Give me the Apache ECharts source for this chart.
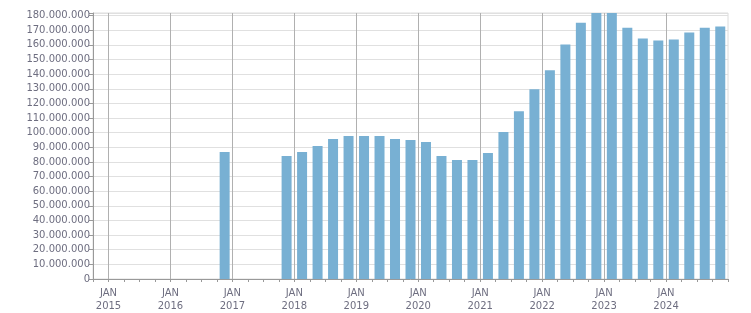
<!DOCTYPE html>
<html>
<head>
<meta charset="utf-8">
<script src="https://cdn.jsdelivr.net/npm/echarts@6/dist/echarts.min.js"></script>
<style>
html,body{margin:0;padding:0;background:#fff;}
#chart{width:751px;height:313px;}
</style>
</head>
<body>
<div id="chart"></div>
<script>
// Periods (year-month of each quarterly bar)
const periods = [
  '2016-11',
  '2017-11',
  '2018-02','2018-05','2018-08','2018-11',
  '2019-02','2019-05','2019-08','2019-11',
  '2020-02','2020-05','2020-08','2020-11',
  '2021-02','2021-05','2021-08','2021-11',
  '2022-02','2022-05','2022-08','2022-11',
  '2023-02','2023-05','2023-08','2023-11',
  '2024-02','2024-05','2024-08','2024-11'
];
const values = [
  86800000,
  84100000,
  86800000, 90900000, 95700000, 97700000,
  97700000, 97700000, 95700000, 95000000,
  93600000, 84100000, 81400000, 81400000,
  86200000, 100400000, 114700000, 129700000,
  142600000, 160300000, 175200000, 182500000,
  182500000, 171800000, 164300000, 163000000,
  163700000, 168400000, 171800000, 172500000
];
const yearTicks = [2015, 2016, 2017, 2018, 2019, 2020, 2021, 2022, 2023, 2024];

function periodToYear(p) {
  const [y, m] = p.split('-').map(Number);
  return y + (m - 1 + 0.5) / 12;
}
const seriesData = periods.map((p, i) => [periodToYear(p), values[i]]);

function fmtThousands(v) {
  return String(Math.round(v)).replace(/\B(?=(\d{3})+(?!\d))/g, '.');
}

const textColor = '#6e6e80';
const chart = echarts.init(document.getElementById('chart'), null, {renderer: 'canvas'});
chart.setOption({
  animation: false,
  backgroundColor: '#fff',
  grid: {
    left: 93, right: 23, top: 13, bottom: 32,
    show: true, borderColor: '#dcdcdc', borderWidth: 1
  },
  xAxis: {
    type: 'value',
    min: 2014.75,
    max: 2025,
    interval: 0.25,
    axisLine: {show: true, lineStyle: {color: '#999', width: 1}},
    axisTick: {show: true, length: 3, lineStyle: {color: '#999'}},
    splitLine: {show: false},
    axisLabel: {
      color: textColor,
      fontFamily: 'DejaVu Sans',
      fontSize: 10,
      lineHeight: 13,
      margin: 8,
      showMinLabel: true,
      showMaxLabel: true,
      formatter: function (v) {
        const r = Math.round(v);
        if (Math.abs(v - r) < 1e-6 && yearTicks.indexOf(r) >= 0) return 'JAN\n' + r;
        return '';
      }
    }
  },
  yAxis: {
    type: 'value',
    min: 0,
    max: 181800000,
    interval: 10000000,
    axisLine: {show: true, lineStyle: {color: '#999', width: 1}},
    axisTick: {show: true, length: 4, lineStyle: {color: '#999'}},
    splitLine: {show: true, lineStyle: {color: '#e0e0e0', width: 1}},
    axisLabel: {
      color: textColor,
      fontFamily: 'DejaVu Sans',
      fontSize: 10,
      margin: 3,
      formatter: function (v) {
        if (v % 10000000 !== 0) return '';
        return fmtThousands(v);
      }
    }
  },
  series: [{
    type: 'bar',
    data: seriesData,
    barWidth: 10,
    itemStyle: {color: '#78b0d3'},
    clip: true,
    markLine: {
      silent: true,
      symbol: ['none', 'none'],
      label: {show: false},
      animation: false,
      lineStyle: {color: '#b0b0b0', type: 'solid', width: 1},
      data: yearTicks.map(y => ({xAxis: y}))
    },
    z: 2
  }]
});
</script>
</body>
</html>
